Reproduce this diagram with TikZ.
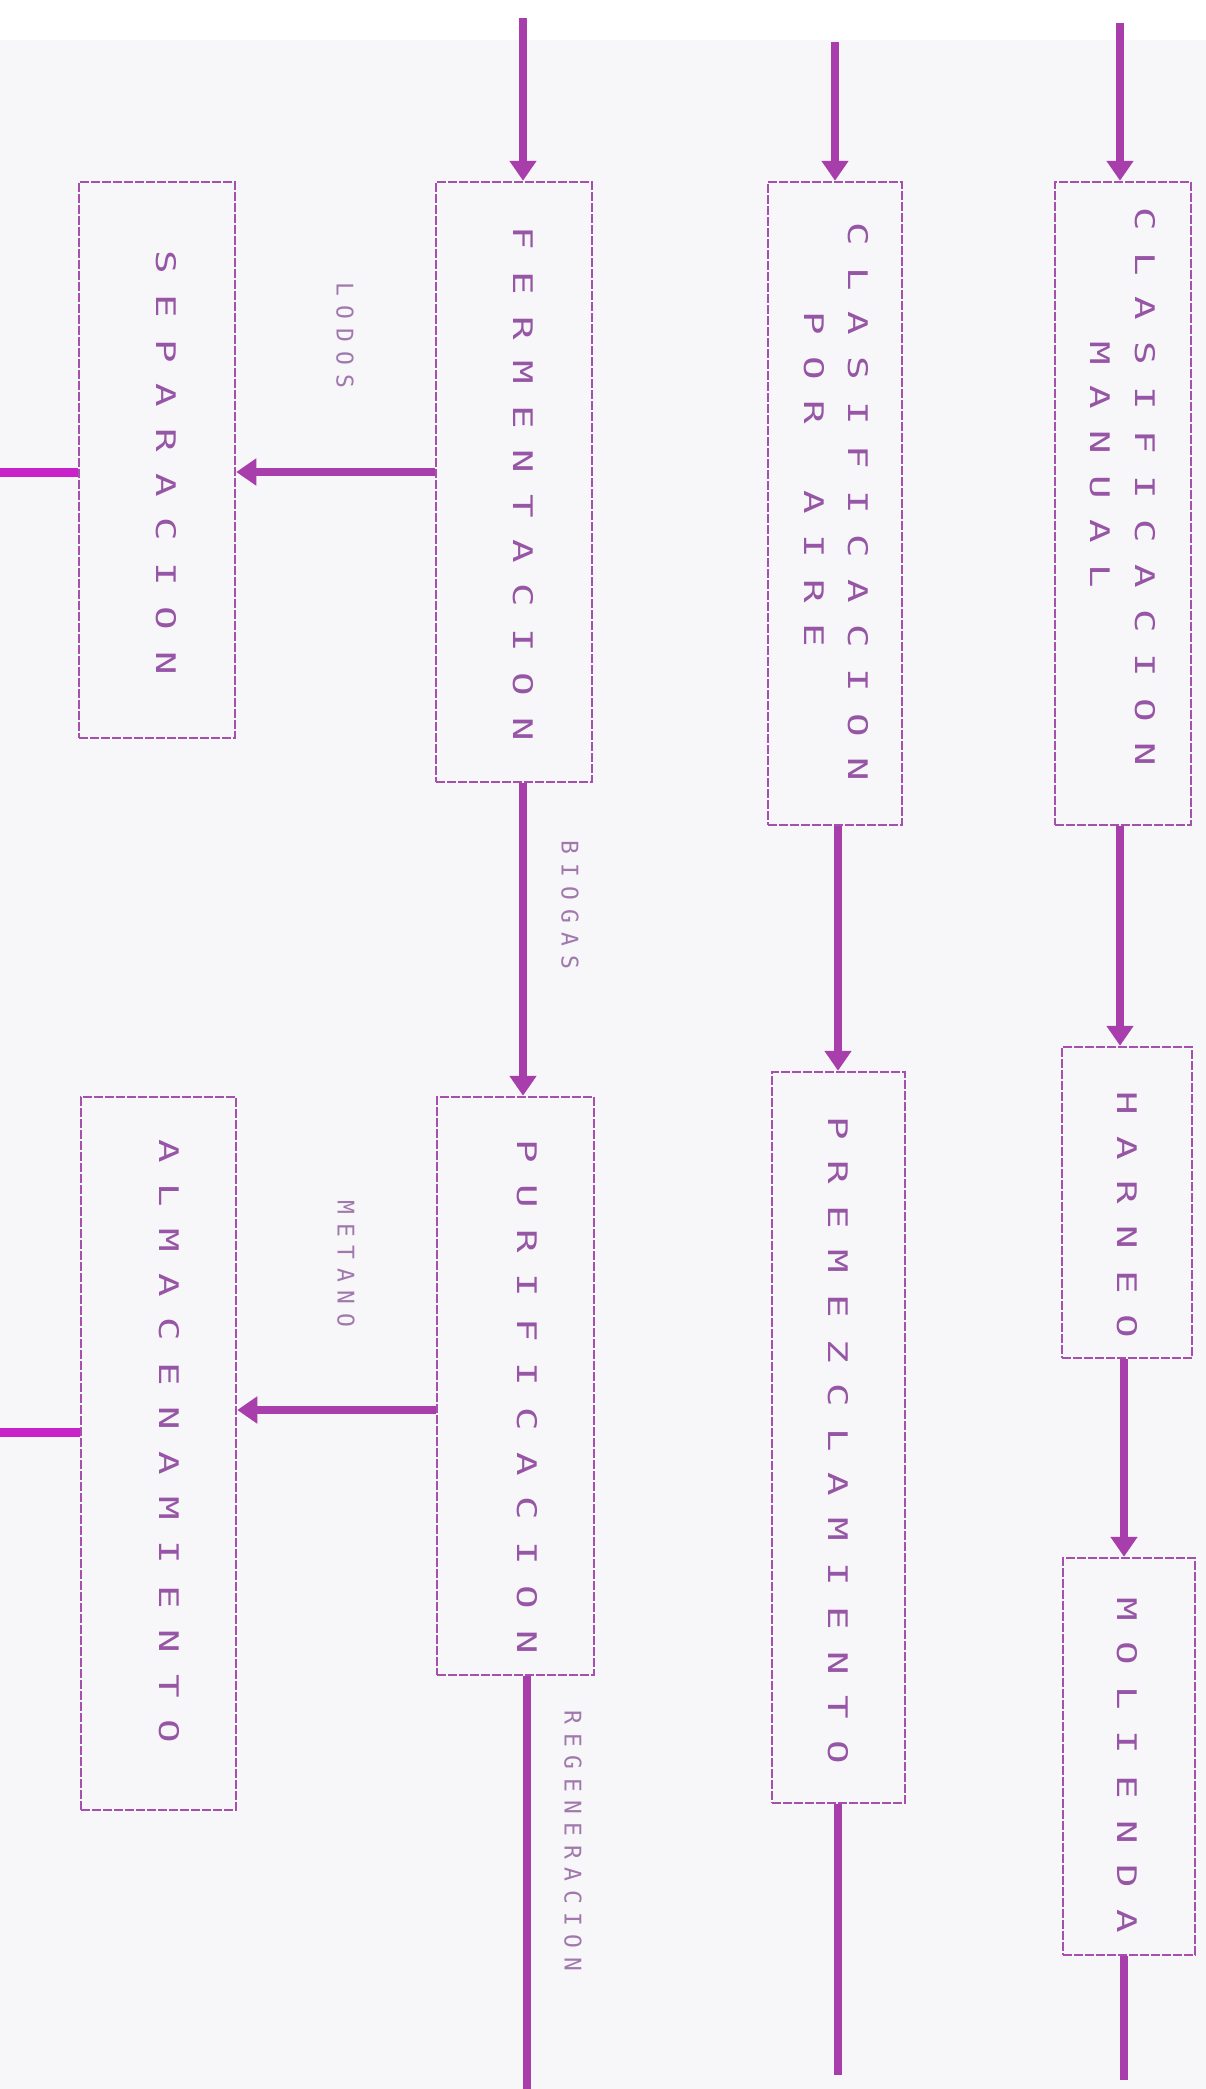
\documentclass[tikz,border=0pt]{standalone}
\usepackage{fontspec}
\usepackage{graphicx}
\usetikzlibrary{arrows.meta}
\newfontfamily\dotfont{DejaVu Sans Mono}
\newcommand\boxfont{\dotfont\fontsize{27}{27}\selectfont}
\newcommand\lblfont{\dotfont\fontsize{23}{23}\selectfont}
\definecolor{arrowc}{RGB}{168,62,172}
\definecolor{boxc}{RGB}{165,80,172}
\definecolor{textc}{RGB}{150,85,165}
\definecolor{lblc}{RGB}{160,120,172}
\definecolor{brightc}{RGB}{200,35,200}
\definecolor{bgc}{RGB}{247,247,249}
\makeatletter
\newcommand\spacedletters[3]{\@tfor\sp@ch:=#3\do{\makebox[#1]{\scalebox{#2}[1]{\sp@ch}}}}
\makeatother
\begin{document}
\begin{tikzpicture}[x=1pt,y=-1pt,
  box/.style={draw=boxc, line width=2.5pt, dash pattern=on 9pt off 2pt, inner sep=0pt},
  boxtext/.style={rotate=-90, inner sep=0pt, text=textc, font=\boxfont},
  lbltext/.style={rotate=-90, inner sep=0pt, text=lblc, font=\lblfont},
  flow/.style={draw=arrowc, line width=8pt, -{Triangle[length=20pt,width=26pt]}},
  flowout/.style={draw=arrowc, line width=8pt},
  flowedge/.style={draw=brightc, line width=9pt}]
\useasboundingbox (0,0) rectangle (1206,2089);
\fill[white] (0,0) rectangle (1206,2089);
\fill[bgc] (0,40) rectangle (1206,2089);
% boxes
\node[box, minimum width=156pt, minimum height=556pt] (sep) at (157,460) {};
\node[box, minimum width=156pt, minimum height=600pt] (ferm) at (514,482) {};
\node[box, minimum width=134pt, minimum height=643pt] (clasA) at (835,503.5) {};
\node[box, minimum width=136pt, minimum height=643pt] (clasM) at (1123,503.5) {};
\node[box, minimum width=155pt, minimum height=713pt] (alm) at (158.5,1453.5) {};
\node[box, minimum width=157pt, minimum height=578pt] (puri) at (515.5,1386) {};
\node[box, minimum width=133pt, minimum height=731pt] (prem) at (838.5,1437.5) {};
\node[box, minimum width=130pt, minimum height=311pt] (harneo) at (1127,1202.5) {};
\node[box, minimum width=132pt, minimum height=397pt] (mol) at (1129,1756.5) {};
% box texts
\node[boxtext] (sepT) at (166,462.5) {\spacedletters{44.6pt}{1.45}{SEPARACION}};
\node[boxtext] (fermT) at (523,484) {\spacedletters{44.6pt}{1.45}{FERMENTACION}};
\node[boxtext] (clasAT) at (858,502) {\spacedletters{44.6pt}{1.45}{CLASIFICACION}};
\node[boxtext] (porT) at (814,479.5) {\spacedletters{44.6pt}{1.45}{POR~AIRE}};
\node[boxtext] (clasMT) at (1145,487) {\spacedletters{44.6pt}{1.45}{CLASIFICACION}};
\node[boxtext] (manT) at (1100,464.5) {\spacedletters{44.6pt}{1.45}{MANUAL}};
\node[boxtext] (puriT) at (527,1397) {\spacedletters{44.6pt}{1.45}{PURIFICACION}};
\node[boxtext] (almT) at (169,1441) {\spacedletters{44.6pt}{1.45}{ALMACENAMIENTO}};
\node[boxtext] (premT) at (838,1440) {\spacedletters{44.6pt}{1.45}{PREMEZCLAMIENTO}};
\node[boxtext] (harT) at (1127,1215) {\spacedletters{44.6pt}{1.45}{HARNEO}};
\node[boxtext] (molT) at (1127,1765) {\spacedletters{44.6pt}{1.45}{MOLIENDA}};
% labels
\node[lbltext] (lodos) at (345,335) {\spacedletters{23pt}{1}{LODOS}};
\node[lbltext] (biogas) at (570,905) {\spacedletters{23pt}{1}{BIOGAS}};
\node[lbltext] (metano) at (346,1264) {\spacedletters{22.5pt}{1}{METANO}};
\node[lbltext] (regen) at (573,1841) {\spacedletters{22.4pt}{1}{REGENERACION}};
% free ends
\coordinate (inF) at (523,18);
\coordinate (inA) at (835,42);
\coordinate (inM) at (1120,23);
\coordinate (outSep) at (0,472);
\coordinate (outAlm) at (0,1432);
\coordinate (metY) at (300,1410);
\coordinate (outRegen) at (527,2089);
\coordinate (outPrem) at (838,2075);
\coordinate (outMol) at (1124,2080);
% connectors
\draw[flow] (inF) -- (inF |- ferm.north);
\draw[flow] (inA) -- (inA |- clasA.north);
\draw[flow] (inM) -- (inM |- clasM.north);
\draw[flow] (ferm.west |- outSep) -- (sep.east |- outSep);
\draw[flowedge] (sep.west |- outSep) -- (outSep);
\draw[flow] (ferm.south -| inF) -- (puri.north -| inF);
\draw[flow] (puri.west |- metY) -- (alm.east |- metY);
\draw[flowedge] (alm.west |- outAlm) -- (outAlm);
\draw[flowout] (puri.south -| outRegen) -- (outRegen);
\draw[flow] (clasA.south -| outPrem) -- (prem.north -| outPrem);
\draw[flowout] (prem.south -| outPrem) -- (outPrem);
\draw[flow] (clasM.south -| inM) -- (harneo.north -| inM);
\draw[flow] (harneo.south -| outMol) -- (mol.north -| outMol);
\draw[flowout] (mol.south -| outMol) -- (outMol);
\end{tikzpicture}
\end{document}
